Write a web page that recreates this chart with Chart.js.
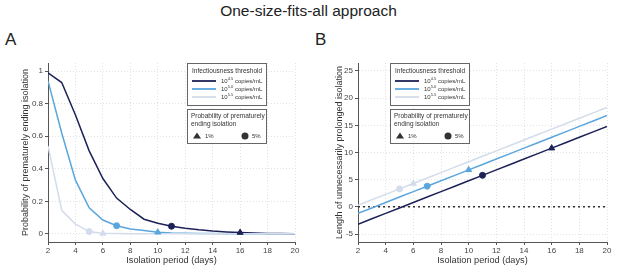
<!DOCTYPE html>
<html>
<head>
<meta charset="utf-8">
<script src="https://cdn.jsdelivr.net/npm/chart.js@4"></script>
<style>
  body { margin: 0; background: #fff; font-family: "Liberation Sans", Arial, sans-serif; }
  #wrap { position: relative; width: 617px; height: 266px; overflow: hidden; }
  #title { position: absolute; top: 2px; left: 0; width: 617px; text-align: center; font-size: 15.5px; color: #222; }
  .lab { position: absolute; font-size: 17px; color: #222; }
  .cv { position: absolute; top: 40px; }
</style>
</head>
<body>
<div id="wrap">
  <div id="title">One-size-fits-all approach</div>
  <div class="lab" style="left:5px;top:30px">A</div>
  <div class="lab" style="left:315px;top:30px">B</div>
  <canvas id="chartA" class="cv" style="left:0px" width="305" height="226"></canvas>
  <canvas id="chartB" class="cv" style="left:310px" width="307" height="226"></canvas>
</div>
<script>
// data
const days = [2,3,4,5,6,7,8,9,10,11,12,13,14,15,16,17,18,19,20];
const thresholds = ['4.5', '5.0', '5.5'];
const colors = ['#1c2157', '#5aa6dc', '#d3dcea'];

// panel A: probability of prematurely ending isolation
const probA = [
  [0.99,0.93,0.73,0.51,0.34,0.22,0.15,0.09,0.065,0.047,0.035,0.025,0.017,0.012,0.008,0.005,0.003,0.002,0.001],
  [0.94,0.62,0.33,0.16,0.085,0.05,0.03,0.02,0.01,0.006,0.004,0.003,0.002,0.001,0.001,0,0,0,0],
  [0.54,0.145,0.06,0.014,0.003,0.002,0.001,0,0,0,0,0,0,0,0,0,0,0,0]
];
// panel B: length of unnecessarily prolonged isolation
const lenB = [
  [-3.2,-2.2,-1.2,-0.2,0.8,1.8,2.8,3.8,4.8,5.8,6.8,7.8,8.8,9.8,10.8,11.8,12.8,13.8,14.8],
  [-1.2,-0.2,0.8,1.8,2.8,3.8,4.8,5.8,6.8,7.8,8.8,9.8,10.8,11.8,12.8,13.8,14.8,15.8,16.8],
  [0.3,1.3,2.3,3.3,4.3,5.3,6.3,7.3,8.3,9.3,10.3,11.3,12.3,13.3,14.3,15.3,16.3,17.3,18.3]
];
// isolation period where probability reaches 1% and 5%
const day1pct = [16, 10, 6];
const day5pct = [11, 7, 5];

const xTicks = [2,4,6,8,10,12,14,16,18,20];
const yTicksA = [0,0.2,0.4,0.6,0.8,1];
const yTicksB = [-5,0,5,10,15,20,25];

function buildDatasets(values) {
  const ds = [];
  values.forEach((arr, i) => {
    ds.push({
      data: days.map((d, j) => ({x: d, y: arr[j]})),
      borderColor: colors[i], borderWidth: 1.5, pointRadius: 0, tension: 0, order: 5 - i
    });
  });
  values.forEach((arr, i) => {
    const d1 = day1pct[i], d5 = day5pct[i];
    ds.push({
      data: [{x: d1, y: arr[days.indexOf(d1)]}],
      showLine: false, pointStyle: 'triangle', pointRadius: 3.5,
      backgroundColor: colors[i], borderColor: colors[i], order: 0
    });
    ds.push({
      data: [{x: d5, y: arr[days.indexOf(d5)]}],
      showLine: false, pointStyle: 'circle', pointRadius: 3,
      backgroundColor: colors[i], borderColor: colors[i], order: 0
    });
  });
  return ds;
}

const zeroLine = {
  id: 'zeroLine',
  beforeDatasetsDraw(chart) {
    if (!chart.options.plugins.zeroLine.show) return;
    const {ctx, chartArea, scales} = chart;
    const y = scales.y.getPixelForValue(0);
    ctx.save();
    ctx.strokeStyle = '#333';
    ctx.lineWidth = 1.5;
    ctx.setLineDash([2, 3]);
    ctx.beginPath();
    ctx.moveTo(chartArea.left, y);
    ctx.lineTo(chartArea.right, y);
    ctx.stroke();
    ctx.restore();
  }
};

// two boxed legends drawn on the canvas
const boxLegend = {
  id: 'boxLegend',
  afterDraw(chart) {
    const x0 = chart.options.plugins.boxLegend.x;
    const ctx = chart.ctx;
    ctx.save();
    ctx.lineWidth = 1;
    ctx.strokeStyle = '#666';
    ctx.fillStyle = '#fff';
    ctx.fillRect(x0, 23, 79, 42);
    ctx.strokeRect(x0 + 0.5, 23.5, 79, 42);
    ctx.fillRect(x0, 69, 79, 34);
    ctx.strokeRect(x0 + 0.5, 69.5, 79, 34);
    ctx.fillStyle = '#333';
    ctx.textBaseline = 'middle';
    ctx.font = '6.5px "Liberation Sans"';
    ctx.fillText('Infectiousness threshold', x0 + 5, 31);
    thresholds.forEach((t, i) => {
      const y = 41 + i * 8;
      ctx.strokeStyle = colors[i];
      ctx.lineWidth = 1.8;
      ctx.beginPath();
      ctx.moveTo(x0 + 5, y);
      ctx.lineTo(x0 + 29, y);
      ctx.stroke();
      ctx.fillStyle = '#333';
      ctx.font = '6px "Liberation Sans"';
      ctx.fillText('10', x0 + 34, y);
      const w = ctx.measureText('10').width;
      ctx.font = '4px "Liberation Sans"';
      ctx.fillText(t, x0 + 34 + w, y - 2.5);
      const w2 = ctx.measureText(t).width;
      ctx.font = '6px "Liberation Sans"';
      ctx.fillText(' copies/mL', x0 + 34 + w + w2, y);
    });
    ctx.font = '6.5px "Liberation Sans"';
    ctx.fillText('Probability of prematurely', x0 + 4, 76);
    ctx.fillText('ending isolation', x0 + 4, 84);
    ctx.fillStyle = '#333';
    ctx.beginPath();
    ctx.moveTo(x0 + 10, 92.5);
    ctx.lineTo(x0 + 14, 98.5);
    ctx.lineTo(x0 + 6, 98.5);
    ctx.closePath();
    ctx.fill();
    ctx.font = '6px "Liberation Sans"';
    ctx.fillText('1%', x0 + 18, 96);
    ctx.beginPath();
    ctx.arc(x0 + 58, 96, 3.5, 0, Math.PI * 2);
    ctx.fill();
    ctx.fillText('5%', x0 + 65, 96);
    ctx.restore();
  }
};

function makeChart(id, values, yMin, yMax, yTicks, yTitle, fmt, legendX, padLeft, yWidth) {
  return new Chart(document.getElementById(id), {
    type: 'line',
    data: { datasets: buildDatasets(values) },
    plugins: [zeroLine, boxLegend],
    options: {
      responsive: false,
      animation: false,
      layout: { padding: { top: 23, right: 10, left: padLeft, bottom: 0 } },
      plugins: {
        legend: { display: false }, tooltip: { enabled: false },
        zeroLine: { show: id === 'chartB' },
        boxLegend: { x: legendX }
      },
      scales: {
        x: {
          type: 'linear', min: 2, max: 20,
          afterBuildTicks: s => { s.ticks = xTicks.map(v => ({value: v})); },
          afterFit: s => { s.height = 24; },
          grid: { color: '#e2e2e2', tickColor: '#555', tickLength: 3, lineWidth: 1 },
          border: { color: '#555', width: 1, dash: [1, 2] },
          ticks: { color: '#444', font: { size: 8, family: 'Liberation Sans' }, padding: 1, maxRotation: 0 },
          title: { display: true, text: 'Isolation period (days)', color: '#333', font: { size: 9.2, family: 'Liberation Sans' }, padding: 0 }
        },
        y: {
          min: yMin, max: yMax,
          afterBuildTicks: s => { s.ticks = yTicks.map(v => ({value: v})); },
          afterFit: s => { s.width = yWidth; },
          grid: { color: '#e2e2e2', tickColor: '#555', tickLength: 3, lineWidth: 1 },
          border: { color: '#555', width: 1, dash: [1, 2] },
          ticks: { color: '#444', font: { size: 8, family: 'Liberation Sans' }, padding: 2, callback: fmt },
          title: { display: true, text: yTitle, color: '#333', font: { size: 9, family: 'Liberation Sans' }, padding: 1 }
        }
      }
    }
  });
}

makeChart('chartA', probA, -0.05, 1.05, yTicksA, 'Probability of prematurely ending isolation', v => String(Math.round(v * 10) / 10), 187, 19, 29);
makeChart('chartB', lenB, -6.47, 26.47, yTicksB, 'Length of unnecessarily prolonged isolation', v => String(v), 80, 23, 25);
</script>
</body>
</html>
